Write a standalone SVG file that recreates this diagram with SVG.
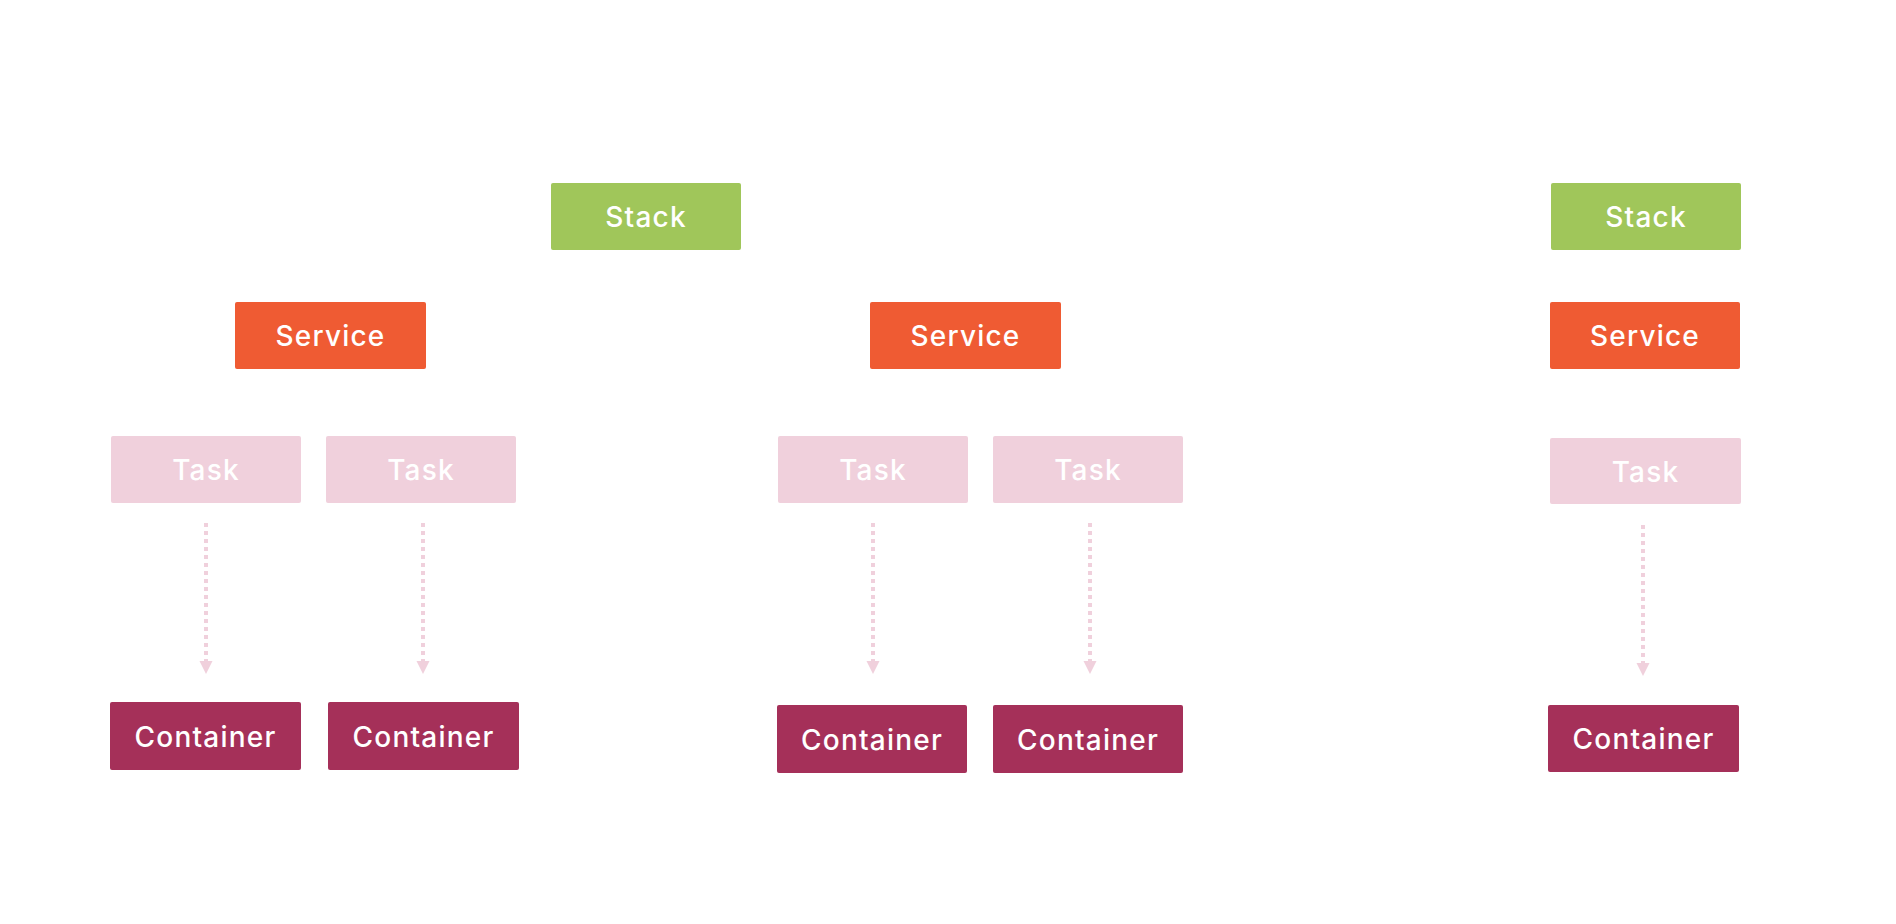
<svg xmlns="http://www.w3.org/2000/svg" width="1896" height="924" viewBox="0 0 1896 924">
<style>
.box{rx:2;ry:2}
.stack{fill:#A0C65A}
.service{fill:#EF5B33}
.task{fill:#F0D0DC}
.container{fill:#A53059}
.lbl{font-family:Inter,"Open Sans","Liberation Sans",sans-serif;font-weight:500;fill:#FFFFFF;text-anchor:middle;font-size:28px;letter-spacing:1.2px}
.conn{stroke:#F0D0DC;stroke-width:4;stroke-dasharray:4 4;fill:none}
</style>
<defs>
<marker id="arr" markerUnits="userSpaceOnUse" markerWidth="14" markerHeight="14" refX="0" refY="7" orient="auto">
<path d="M0,0.5 L13,7 L0,13.5 z" fill="#F0D0DC"/>
</marker>
</defs>
<rect width="1896" height="924" fill="#FFFFFF"/>
<g id="connectors">
<line class="conn" x1="206" y1="523" x2="206" y2="661" marker-end="url(#arr)"/>
<line class="conn" x1="423" y1="523" x2="423" y2="661" marker-end="url(#arr)"/>
<line class="conn" x1="873" y1="523" x2="873" y2="661" marker-end="url(#arr)"/>
<line class="conn" x1="1090" y1="523" x2="1090" y2="661" marker-end="url(#arr)"/>
<line class="conn" x1="1643" y1="525" x2="1643" y2="663" marker-end="url(#arr)"/>
</g>
<g id="stack1"><rect class="box stack" x="551" y="183" width="190" height="67"/><text class="lbl" x="646" y="227">Stack</text></g>
<g id="stack2"><rect class="box stack" x="1551" y="183" width="190" height="67"/><text class="lbl" x="1646" y="227">Stack</text></g>
<g id="service1"><rect class="box service" x="235" y="302" width="191" height="67"/><text class="lbl" x="330.5" y="346">Service</text></g>
<g id="service2"><rect class="box service" x="870" y="302" width="191" height="67"/><text class="lbl" x="965.5" y="346">Service</text></g>
<g id="service3"><rect class="box service" x="1550" y="302" width="190" height="67"/><text class="lbl" x="1645" y="346">Service</text></g>
<g id="task1"><rect class="box task" x="111" y="436" width="190" height="67"/><text class="lbl" x="206" y="480">Task</text></g>
<g id="task2"><rect class="box task" x="326" y="436" width="190" height="67"/><text class="lbl" x="421" y="480">Task</text></g>
<g id="task3"><rect class="box task" x="778" y="436" width="190" height="67"/><text class="lbl" x="873" y="480">Task</text></g>
<g id="task4"><rect class="box task" x="993" y="436" width="190" height="67"/><text class="lbl" x="1088" y="480">Task</text></g>
<g id="task5"><rect class="box task" x="1550" y="438" width="191" height="66"/><text class="lbl" x="1645.5" y="482">Task</text></g>
<g id="container1"><rect class="box container" x="110" y="702" width="191" height="68"/><text class="lbl" x="205.5" y="746.5">Container</text></g>
<g id="container2"><rect class="box container" x="328" y="702" width="191" height="68"/><text class="lbl" x="423.5" y="746.5">Container</text></g>
<g id="container3"><rect class="box container" x="777" y="705" width="190" height="68"/><text class="lbl" x="872" y="750">Container</text></g>
<g id="container4"><rect class="box container" x="993" y="705" width="190" height="68"/><text class="lbl" x="1088" y="750">Container</text></g>
<g id="container5"><rect class="box container" x="1548" y="705" width="191" height="67"/><text class="lbl" x="1643.5" y="749">Container</text></g>
</svg>
